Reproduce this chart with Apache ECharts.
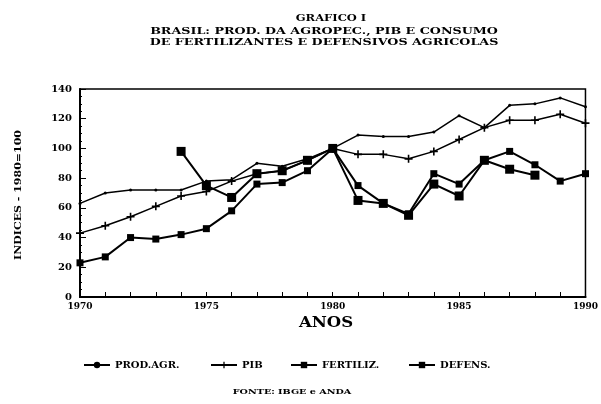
<!DOCTYPE html>
<html>
<head>
<meta charset="utf-8">
<script src="https://cdn.jsdelivr.net/npm/echarts@6/dist/echarts.min.js"></script>
<style>
    html, body { margin: 0; padding: 0; background: #fff; }
    #chart { width: 601px; height: 404px; }
</style>
</head>
<body>
<div id="chart"></div>
<script>
// anos 1970 - 1990
var anos = ['1970','1971','1972','1973','1974','1975','1976','1977','1978','1979','1980',
            '1981','1982','1983','1984','1985','1986','1987','1988','1989','1990'];
var prodAgr = [63, 70, 72, 72, 72, 78, 79, 90, 88, 93, 100,
               109, 108, 108, 111, 122, 114, 129, 130, 134, 128];
var pib = [43, 48, 54, 61, 68, 71, 78, 83, 85, 92, 100,
           96, 96, 93, 98, 106, 114, 119, 119, 123, 117];
var fertiliz = [23, 27, 40, 39, 42, 46, 58, 76, 77, 85, 100,
                75, 63, 56, 83, 76, 92, 98, 89, 78, 83];
var defens = [null, null, null, null, 98, 75, 67, 83, 85, 92, 100,
              65, 63, 55, 76, 68, 92, 86, 82, null, null];
var yTicks = [0, 20, 40, 60, 80, 100, 120, 140];

var FONT = '"DejaVu Serif", "Liberation Serif", serif';
var plus = 'path://M4,0 L6,0 L6,4 L10,4 L10,6 L6,6 L6,10 L4,10 L4,6 L0,6 L0,4 L4,4 Z';

var chart = echarts.init(document.getElementById('chart'));

function serie(name, data, symbol, size, width) {
    return {
        name: name,
        type: 'line',
        data: data,
        symbol: symbol,
        symbolSize: size,
        showSymbol: true,
        connectNulls: false,
        lineStyle: { color: '#000', width: width },
        itemStyle: { color: '#000', borderWidth: 0 },
        animation: false
    };
}

function texto(str, x, y, size, sx, rot) {
    return {
        type: 'text',
        x: x, y: y,
        scaleX: sx,
        rotation: rot || 0,
        style: {
            text: str,
            font: 'bold ' + size + 'px ' + FONT,
            fill: '#000',
            textAlign: 'center',
            textVerticalAlign: 'middle'
        }
    };
}

function legenda(name, left) {
    return {
        left: left, top: 355,
        itemWidth: 26, itemHeight: 8, itemGap: 0,
        textStyle: { fontFamily: FONT, fontWeight: 'bold', fontSize: 10, color: '#000' },
        data: [name]
    };
}

var option = {
    backgroundColor: '#fff',
    graphic: [
        texto('GRAFICO I', 331, 18, 10, 1.15),
        texto('BRASIL: PROD. DA AGROPEC., PIB E CONSUMO', 324, 31, 10, 1.27),
        texto('DE FERTILIZANTES E DEFENSIVOS AGRICOLAS', 324, 42, 10, 1.27),
        texto('ANOS', 326, 323, 15, 1.1),
        texto('FONTE: IBGE e ANDA', 292, 392, 8, 1.2),
        // titulo vertical do eixo
        {
            type: 'text',
            x: 18, y: 195,
            rotation: Math.PI / 2,
            scaleX: 1.1,
            style: {
                text: 'INDICES - 1980=100',
                font: 'bold 10px ' + FONT,
                fill: '#000',
                textAlign: 'center',
                textVerticalAlign: 'middle'
            }
        }
    ],
    legend: [
        legenda('PROD.AGR.', 78),
        legenda('PIB', 205),
        legenda('FERTILIZ.', 285),
        legenda('DEFENS.', 403)
    ],
    grid: {
        left: 80, right: 13, top: 89, bottom: 107,
        show: true, borderColor: '#000', borderWidth: 1.5
    },
    xAxis: {
        type: 'category',
        data: anos,
        boundaryGap: false,
        axisLine: { lineStyle: { color: '#000', width: 2 } },
        axisTick: { inside: true, interval: 0, length: 5, lineStyle: { color: '#000' } },
        axisLabel: {
            interval: 4, color: '#000', margin: 5,
            fontFamily: FONT, fontWeight: 'bold', fontSize: 9
        },
        splitLine: { show: false }
    },
    yAxis: {
        type: 'value',
        min: yTicks[0],
        max: yTicks[yTicks.length - 1],
        interval: 20,
        axisLine: { show: true, lineStyle: { color: '#000', width: 2 } },
        axisTick: { show: true, inside: true, length: 6, lineStyle: { color: '#000' } },
        minorTick: { show: true, splitNumber: 4, length: 2, lineStyle: { color: '#000' } },
        axisLabel: {
            color: '#000', margin: 8,
            fontFamily: FONT, fontWeight: 'bold', fontSize: 10
        },
        splitLine: { show: false }
    },
    series: [
        serie('PROD.AGR.', prodAgr, 'circle', 3, 1.5),
        serie('PIB', pib, plus, 8, 1.5),
        serie('FERTILIZ.', fertiliz, 'rect', 7, 2),
        serie('DEFENS.', defens, 'rect', 9, 2)
    ]
};
chart.setOption(option);
</script>
</body>
</html>
